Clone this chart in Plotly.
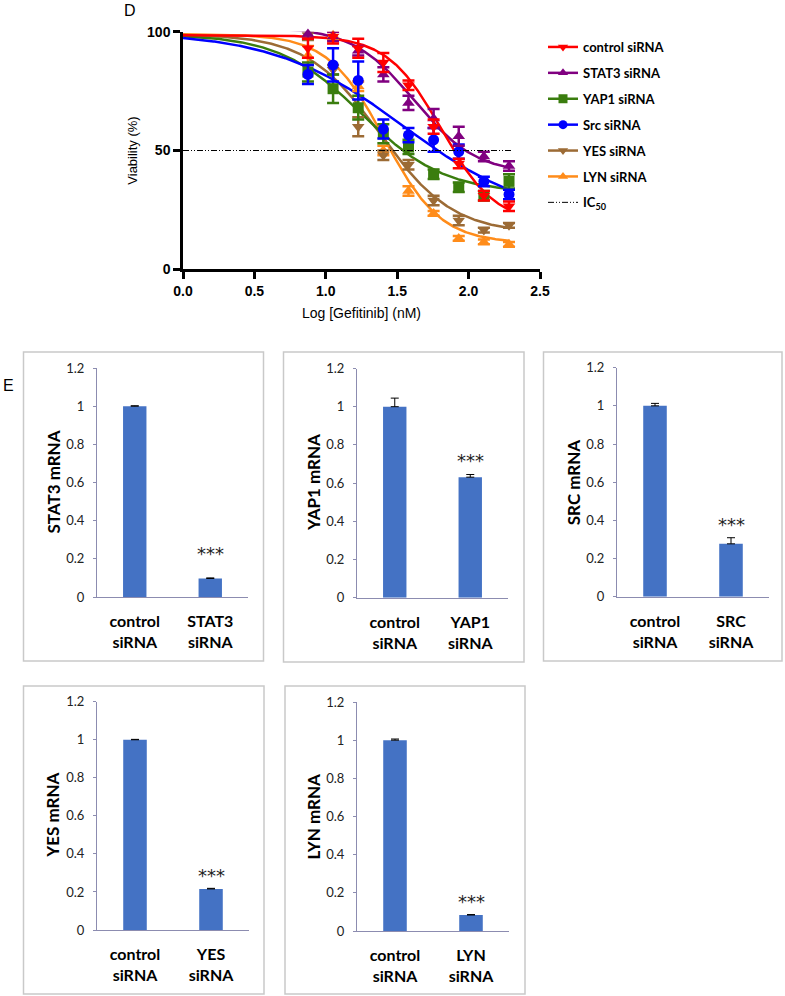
import numpy as np
import plotly.graph_objects as go

W, H = 785, 996

# ---------------- Panel D data ----------------
log_dose = [0.875, 1.051, 1.227, 1.403, 1.579, 1.755, 1.931, 2.107, 2.283]
series_names = ["control siRNA", "STAT3 siRNA", "YAP1 siRNA", "Src siRNA", "YES siRNA", "LYN siRNA"]
control_v = [93, 98, 93, 87, 77.5, 60, 44.5, 31, 26.5]
control_e = [4, 3, 4, 4, 2, 3, 2, 2, 2]
stat3_v = [99, 98, 92, 82, 70, 63.5, 56, 47.5, 43.5]
stat3_e = [2, 2, 2, 3, 3, 4, 4, 2, 2]
yap1_v = [83, 76, 68, 57, 51.5, 40, 34.5, 31, 37]
yap1_e = [4, 6, 5, 4, 3, 2, 2, 2, 3]
src_v = [82, 86, 79.5, 59, 56.5, 54.5, 49.5, 37, 31.5]
src_e = [4, 7, 8, 4, 3, 5, 3, 2, 2]
yes_v = [98.5, 84, 60, 48, 44, 29, 20.5, 16.5, 18.5]
yes_e = [2, 2, 4, 2, 2, 2, 2, 1, 1]
lyn_v = [90, 98.5, 77, 50, 33, 23.5, 13, 11.5, 10.5]
lyn_e = [4, 2, 2, 2, 2, 1, 1, 1, 1]
# fitted 4-parameter logistic curves (top, bottom, logIC50, hill) read from the plotted fits
fit_top = [98.5, 102, 99, 100, 99, 99]
fit_bottom = [19, 40, 32, 20, 15, 11]
fit_mid = [1.81, 1.62, 1.25, 1.55, 1.38, 1.41]
fit_hill = [2.3, 2.0, 1.5, 0.95, 1.7, 2.2]
ic50_level = 50
ic50_x = [0.0, 2.3]
x_ticks = [0.0, 0.5, 1.0, 1.5, 2.0, 2.5]
y_ticks = [0, 50, 100]

# ---------------- Panel E data ----------------
bar_genes = ["STAT3", "YAP1", "SRC", "YES", "LYN"]
bar_cats = [["control<br>siRNA", g + "<br>siRNA"] for g in bar_genes]
stat3_mrna = [1.0, 0.097]
stat3_mrna_e = [0.002, 0.003]
yap1_mrna = [1.0, 0.631]
yap1_mrna_e = [0.045, 0.014]
src_mrna = [1.0, 0.277]
src_mrna_e = [0.013, 0.032]
yes_mrna = [1.0, 0.216]
yes_mrna_e = [0.002, 0.003]
lyn_mrna = [1.0, 0.084]
lyn_mrna_e = [0.006, 0.002]
bar_y_ticks = [0, 0.2, 0.4, 0.6, 0.8, 1.0, 1.2]
star_label = "***"

# ---------------- styles ----------------
colors = ["#FF0000", "#800080", "#3A7D0E", "#0000FF", "#9C6B35", "#FF8C1A"]
symbols = ["triangle-down", "triangle-up", "square", "circle", "triangle-down", "triangle-up"]
BAR_COLOR = "#4472C4"
AX_COLOR = "#8C8CB0"


def fx(px):
    return px / W


def fy(py):
    return 1 - py / H


fig = go.Figure()

vals = [control_v, stat3_v, yap1_v, src_v, yes_v, lyn_v]
errs = [control_e, stat3_e, yap1_e, src_e, yes_e, lyn_e]

xs = np.linspace(0.0, log_dose[-1], 300)
draw_order = [5, 4, 2, 3, 1, 0]
for i in draw_order:
    curve = fit_bottom[i] + (fit_top[i] - fit_bottom[i]) / (1 + 10 ** (fit_hill[i] * (xs - fit_mid[i])))
    fig.add_trace(go.Scatter(x=xs, y=curve, mode="lines", line=dict(color=colors[i], width=2.5),
                             showlegend=False, hoverinfo="skip", xaxis="x", yaxis="y"))
for i in draw_order:
    fig.add_trace(go.Scatter(x=log_dose, y=vals[i], mode="markers",
                             marker=dict(symbol=symbols[i], size=11, color=colors[i]),
                             error_y=dict(type="data", array=errs[i], color=colors[i], thickness=2.5, width=6),
                             cliponaxis=False, showlegend=False, xaxis="x", yaxis="y"))
# legend entries
for i in range(6):
    fig.add_trace(go.Scatter(x=[None], y=[None], mode="lines+markers", name=series_names[i],
                             line=dict(color=colors[i], width=2.5),
                             marker=dict(symbol=symbols[i], size=9, color=colors[i]),
                             legendgroup=series_names[i], xaxis="x", yaxis="y"))
fig.add_trace(go.Scatter(x=ic50_x, y=[ic50_level] * len(ic50_x), mode="lines", name="IC<sub>50</sub>",
                         line=dict(color="black", width=1, dash="6px,2px,1px,2px,1px,2px"),
                         legendgroup="ic50", xaxis="x", yaxis="y"))

layout = dict(
    width=W, height=H, margin=dict(l=0, r=0, t=0, b=0, autoexpand=False),
    paper_bgcolor="white", plot_bgcolor="white",
    showlegend=True,
    legend=dict(x=fx(543), y=fy(32), xanchor="left", yanchor="top", itemwidth=30,
                tracegroupgap=6, bgcolor="rgba(0,0,0,0)",
                font=dict(family="Lato", size=13, color="black", weight="bold")),
    xaxis=dict(domain=[fx(183), fx(540)], range=[0, 2.5], tickvals=x_ticks, tickformat=".1f",
               showline=True, linecolor="black", linewidth=2.5, ticks="outside", ticklen=7,
               tickwidth=2.5, tickcolor="black", showgrid=False, zeroline=False, automargin=False,
               tickfont=dict(family="Liberation Sans", size=14, color="black", weight="bold"),
               title=dict(text="Log [Gefitinib] (nM)", standoff=11,
                          font=dict(family="Liberation Sans", size=14, color="black")),
               anchor="y"),
    yaxis=dict(domain=[fy(269.3), fy(31.7)], range=[0, 100], tickvals=y_ticks,
               showline=True, linecolor="black", linewidth=2.5, ticks="outside", ticklen=7,
               tickwidth=2.5, tickcolor="black", showgrid=False, zeroline=False, automargin=False,
               tickfont=dict(family="Liberation Sans", size=14, color="black", weight="bold"),
               title=dict(text="Viability (%)", standoff=7,
                          font=dict(family="Liberation Sans", size=13, color="black")),
               anchor="x"),
)

# bar panel geometry: axis left, axis right, y of 0, y of 1.2 (pixels)
panel_geo = [(97, 248, 597, 368), (357, 508, 597.7, 368.5), (617, 769, 596.7, 367.7),
             (97, 249, 930, 701.7), (357, 509, 931, 702)]
box_geo = [(23.5, 352, 263.5, 661), (283.5, 352, 524, 662), (543.5, 352, 782, 661),
           (23.5, 686, 264, 994), (285, 686, 525, 994)]
ytitle_x = [53, 313, 573, 53, 313]
star_gap = [0.13, 0.075, 0.07, 0.065, 0.068]

bar_vals = [stat3_mrna, yap1_mrna, src_mrna, yes_mrna, lyn_mrna]
bar_errs = [stat3_mrna_e, yap1_mrna_e, src_mrna_e, yes_mrna_e, lyn_mrna_e]

shapes = []
annotations = [
    dict(text="D", x=fx(130), y=fy(10), xref="paper", yref="paper", showarrow=False,
         xanchor="center", yanchor="middle",
         font=dict(family="Liberation Sans", size=16, color="black")),
    dict(text="E", x=fx(8), y=fy(386), xref="paper", yref="paper", showarrow=False,
         xanchor="center", yanchor="middle",
         font=dict(family="Liberation Sans", size=16, color="black")),
]
for k in range(5):
    n = k + 2
    xa, ya = f"x{n}", f"y{n}"
    l, r, y0, y12 = panel_geo[k]
    fig.add_trace(go.Bar(x=bar_cats[k], y=bar_vals[k], width=0.31, marker=dict(color=BAR_COLOR, line=dict(width=0)),
                         error_y=dict(type="data", symmetric=False, array=bar_errs[k], arrayminus=[0, 0],
                                      color="black", thickness=1, width=4),
                         showlegend=False, xaxis=xa, yaxis=ya))
    layout[f"xaxis{n}"] = dict(domain=[fx(l), fx(r)], range=[-0.5, 1.5], anchor=ya, type="category",
                               showline=True, linecolor=AX_COLOR, linewidth=1, ticks="", showgrid=False,
                               ticklabelstandoff=10, automargin=False,
                               tickfont=dict(family="Lato", size=16, color="black", weight="bold"))
    layout[f"yaxis{n}"] = dict(domain=[fy(y0), fy(y12)], range=[0, 1.2], anchor=xa, tickvals=bar_y_ticks,
                               showline=True, linecolor=AX_COLOR, linewidth=1, ticks="outside", ticklen=3,
                               tickcolor=AX_COLOR, showgrid=False, zeroline=False, ticklabelstandoff=6,
                               automargin=False,
                               tickfont=dict(family="Lato", size=13, color="#222222"))
    annotations.append(dict(text=f"{bar_genes[k]} mRNA", textangle=-90, x=fx(ytitle_x[k]),
                            y=fy((y0 + y12) / 2), xref="paper", yref="paper", showarrow=False,
                            xanchor="center", yanchor="middle",
                            font=dict(family="Lato", size=17, color="black", weight="bold")))
    bx0, by0, bx1, by1 = box_geo[k]
    shapes.append(dict(type="rect", xref="paper", yref="paper", x0=fx(bx0), x1=fx(bx1), y0=fy(by1), y1=fy(by0),
                       line=dict(color="#C9C9C9", width=1.5), fillcolor="rgba(0,0,0,0)", layer="below"))
    annotations.append(dict(text=star_label, x=bar_cats[k][1],
                            y=bar_vals[k][1] + bar_errs[k][1] + star_gap[k], xref=xa, yref=ya,
                            showarrow=False, font=dict(family="DejaVu Sans", size=18, color="#222222")))

layout["shapes"] = shapes
layout["annotations"] = annotations
fig.update_layout(**layout)
fig.write_html("out.html", config={"displayModeBar": False},
               post_script="document.body.style.margin='0';")
